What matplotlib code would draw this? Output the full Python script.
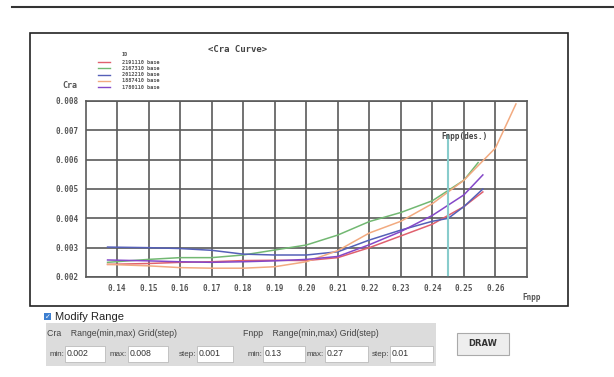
import numpy as np
import matplotlib
matplotlib.use("Agg")
import matplotlib.pyplot as plt
from matplotlib.patches import Rectangle
from matplotlib.lines import Line2D

W, H = 614, 377

# series (Fnpp -> Cra)
ids = ["2191110 base", "2167310 base", "2012210 base", "1887410 base", "1780110 base"]
colors = ["#e0606e", "#72b872", "#5560b8", "#f2aa80", "#8448c8"]

fnpp_red = [0.137, 0.15, 0.16, 0.17, 0.18, 0.19, 0.20, 0.21, 0.22, 0.23, 0.24, 0.25, 0.256]
cra_red = [0.00243, 0.00246, 0.0025, 0.00252, 0.00256, 0.00257, 0.00256, 0.00266, 0.0030, 0.0034, 0.0038, 0.0044, 0.0049]

fnpp_green = [0.137, 0.15, 0.16, 0.17, 0.18, 0.19, 0.20, 0.21, 0.22, 0.23, 0.24, 0.25, 0.2545]
cra_green = [0.0025, 0.0026, 0.00266, 0.00266, 0.00275, 0.00292, 0.00309, 0.00343, 0.00389, 0.0042, 0.0046, 0.0053, 0.0059]

fnpp_blue = [0.137, 0.15, 0.16, 0.17, 0.18, 0.19, 0.20, 0.21, 0.22, 0.23, 0.24, 0.245, 0.25, 0.256]
cra_blue = [0.00302, 0.003, 0.00297, 0.00291, 0.00278, 0.00275, 0.00275, 0.00286, 0.00326, 0.0036, 0.0039, 0.0040, 0.0044, 0.0050]

fnpp_orange = [0.137, 0.15, 0.16, 0.17, 0.18, 0.19, 0.20, 0.21, 0.22, 0.23, 0.24, 0.25, 0.26, 0.2665]
cra_orange = [0.00243, 0.00238, 0.00232, 0.0023, 0.0023, 0.00235, 0.00252, 0.0029, 0.0035, 0.0039, 0.0045, 0.0053, 0.0064, 0.0079]

fnpp_purple = [0.137, 0.15, 0.16, 0.17, 0.18, 0.19, 0.20, 0.21, 0.22, 0.23, 0.24, 0.25, 0.256]
cra_purple = [0.00258, 0.00255, 0.00252, 0.0025, 0.00252, 0.00255, 0.0026, 0.0027, 0.0031, 0.00355, 0.0041, 0.0048, 0.00548]

fnpp_des = 0.245
cra_des_top = 0.00684

xmin, xmax, xstep = 0.13, 0.27, 0.01
ymin, ymax, ystep = 0.002, 0.008, 0.001


def fx(x):
    return x / W


def fy(y):
    return 1 - y / H


def box(fig, x0, y0, x1, y1, fc, ec="none", lw=0.8, z=1):
    fig.add_artist(Rectangle((fx(x0), fy(y1)), fx(x1) - fx(x0), fy(y0) - fy(y1),
                             transform=fig.transFigure, facecolor=fc, edgecolor=ec, linewidth=lw, zorder=z))


fig = plt.figure(figsize=(W / 100, H / 100), dpi=100)
fig.patch.set_facecolor("white")

# top rule and outer frame (kept behind the axes)
fig.add_artist(Line2D([fx(12), fx(614)], [fy(7), fy(7)], transform=fig.transFigure, color="#333333", lw=1.5))
box(fig, 30, 33, 568, 306, "white", "#222222", 1.2, z=-1)

ax = fig.add_axes([fx(85.5), fy(277), fx(527) - fx(85.5), fy(101) - fy(277)])
ax.set_zorder(2)
ax.set_xlim(xmin, xmax)
ax.set_ylim(ymin, ymax)
ax.set_xticks(np.arange(0.14, 0.265, xstep))
ax.set_yticks(np.arange(ymin, ymax + 1e-9, ystep))
ax.grid(True, color="#5a5a5a", lw=1.2)
ax.set_axisbelow(True)
for s in ax.spines.values():
    s.set_color("#5a5a5a")
    s.set_linewidth(1.2)
ax.tick_params(length=0, pad=5, labelsize=5.5, labelcolor="#555555")
mono = {"family": "DejaVu Sans Mono", "weight": "bold"}
ax.set_xticklabels([f"{v:.2f}" for v in ax.get_xticks()], fontdict=mono)
ax.set_yticklabels([f"{v:.3f}" for v in ax.get_yticks()], fontdict=mono)

series = [(fnpp_red, cra_red), (fnpp_green, cra_green), (fnpp_blue, cra_blue),
          (fnpp_orange, cra_orange), (fnpp_purple, cra_purple)]
for (xs, ys), c in zip(series, colors):
    ax.plot(xs, ys, color=c, lw=1.1)
ax.plot([fnpp_des, fnpp_des], [ymin, cra_des_top], color="#88cccc", lw=1.5)
ax.text(fnpp_des - 0.002, cra_des_top - 0.00005, "Fnpp(des.)", fontsize=5.5, color="#444444",
        ha="left", va="center", **mono)

# titles and axis names
fig.text(fx(238), fy(49), "<Cra Curve>", fontsize=6.5, color="#444444", ha="center", va="center", **mono)
fig.text(fx(70), fy(86), "Cra", fontsize=6, color="#555555", ha="center", va="center", **mono)
fig.text(fx(532), fy(297), "Fnpp", fontsize=5.5, color="#555555", ha="center", va="center", **mono)

# legend
fig.text(fx(122), fy(54), "ID", fontsize=3.8, color="#555555", ha="left", va="center", **mono)
for i, (name, c) in enumerate(zip(ids, colors)):
    yy = 62 + 6.3 * i
    fig.add_artist(Line2D([fx(98), fx(110)], [fy(yy), fy(yy)], transform=fig.transFigure, color=c, lw=1))
    fig.text(fx(122), fy(yy), name, fontsize=3.8, color="#555555", ha="left", va="center", **mono)

# controls below the chart
ui = {"family": "Liberation Sans"}
box(fig, 44, 313, 51, 320, "#3d7fd0")
fig.text(fx(47.5), fy(316.5), "✓", fontsize=5, color="white", ha="center", va="center")
fig.text(fx(55), fy(317), "Modify Range", fontsize=8, color="#222222", ha="left", va="center", **ui)
box(fig, 46, 323, 436, 366, "#dcdcdc")
fig.text(fx(47), fy(333), "Cra    Range(min,max) Grid(step)", fontsize=6.3, color="#444444", ha="left", va="center", **ui)
fig.text(fx(243), fy(333), "Fnpp    Range(min,max) Grid(step)", fontsize=6.3, color="#444444", ha="left", va="center", **ui)

fields = [("min:", 64, 65, 105, "0.002"), ("max:", 127, 128, 168, "0.008"), ("step:", 196, 197, 233, "0.001"),
          ("min:", 262, 263, 305, "0.13"), ("max:", 324, 325, 368, "0.27"), ("step:", 389, 390, 433, "0.01")]
for lab, lx, b0, b1, val in fields:
    fig.text(fx(lx), fy(354), lab, fontsize=5.8, color="#444444", ha="right", va="center", **ui)
    box(fig, b0, 346, b1, 362, "white", "#bbbbbb", 0.6)
    fig.text(fx(b0 + 2), fy(354), val, fontsize=6.3, color="#333333", ha="left", va="center", **ui)

box(fig, 457, 333, 509, 355, "#eeeeee", "#aaaaaa", 0.8)
fig.text(fx(483), fy(344), "DRAW", fontsize=6, color="#333333", ha="center", va="center",
         family="DejaVu Sans", weight="bold")

fig.savefig("out.png", dpi=100)
